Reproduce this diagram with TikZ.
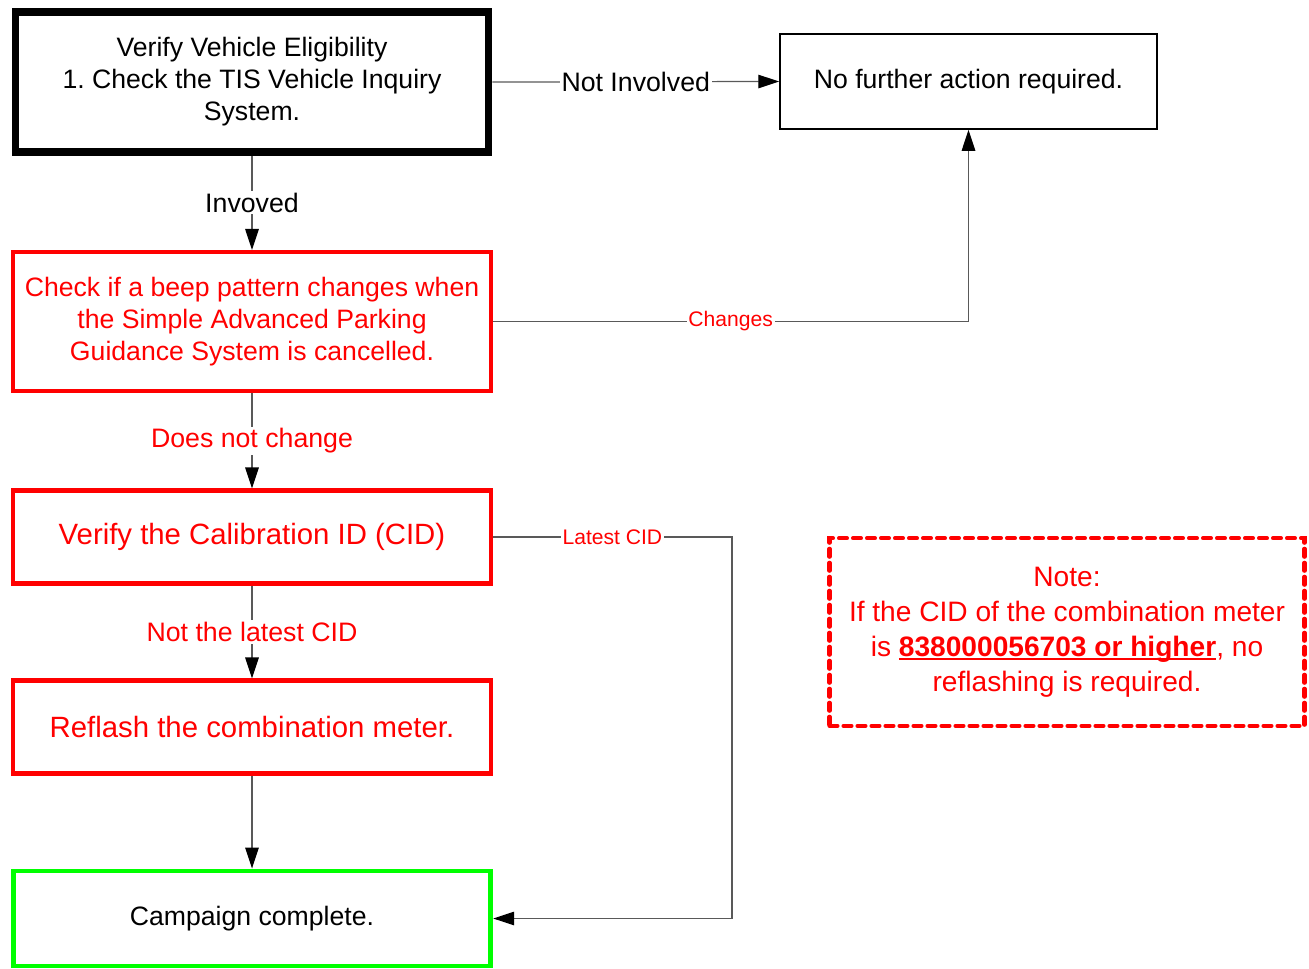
\documentclass[tikz,border=0pt]{standalone}
\usepackage{fontspec}
\setmainfont{Liberation Sans}
\usetikzlibrary{arrows.meta}
\frenchspacing
% gạch chân sát chữ
\newcommand{\ulnum}[1]{\setbox0\hbox{#1}\rlap{\rule[-2.3pt]{\wd0}{1.2pt}}\box0}
\begin{document}
\begin{tikzpicture}[
  box/.style={draw, rectangle, align=center, minimum width=9.55cm,
    font=\fontsize{15.15}{18.2}\selectfont},
  redbox/.style={box, draw=red, line width=2.3pt, text=red},
  link/.style={draw=gray!70!black, line width=0.7pt,
    -{Triangle[length=0.42cm, width=0.27cm, color=black]}},
  lbl/.style={fill=white, inner sep=1pt, font=\fontsize{15.2}{17}\selectfont},
  smalllbl/.style={fill=white, inner sep=1pt, text=red, font=\fontsize{12}{14}\selectfont}
]
  \useasboundingbox (0,0) rectangle (26.18,-19.36);
  % Các hộp chính
  \node[box, line width=4.3pt, minimum width=9.46cm, minimum height=2.8cm] (vve) at (5.04,-1.64)
    {Verify Vehicle Eligibility\\1. Check the TIS Vehicle Inquiry\\System.};
  \node[box, line width=0.85pt, minimum width=7.54cm, minimum height=1.9cm] (nfa) at (19.37,-1.63)
    {No further action required.};
  \node[redbox, minimum height=2.78cm] (beep) at (5.04,-6.43)
    {Check if a beep pattern changes when\\the Simple Advanced Parking\\Guidance System is cancelled.};
  \node[redbox, minimum height=1.86cm, font=\fontsize{16.7}{20}\selectfont] (cid) at (5.04,-10.74)
    {Verify the Calibration ID (CID)};
  \node[redbox, minimum height=1.86cm, font=\fontsize{16.7}{20}\selectfont] (reflash) at (5.04,-14.54)
    {Reflash the combination meter.};
  \node[box, draw={rgb,255:red,0;green,255;blue,0}, line width=2.8pt, minimum height=1.9cm] (done) at (5.04,-18.37)
    {Campaign complete.};
  % Ghi chú
  \node[draw=red, line width=2.3pt, dash pattern=on 0.16cm off 0.12cm, line cap=round,
    rectangle, minimum width=9.5cm, minimum height=3.75cm, align=center, text=red,
    font=\fontsize{16}{19.9}\selectfont] (note) at (21.34,-12.64)
    {Note:\\If the CID of the combination meter\\is \ulnum{\textbf{838000056703 or higher}}, no\\reflashing is required.};
  % Các mũi tên
  \coordinate (cidturn) at (14.64,-10.74);
  \draw[link] (vve) -- node[lbl] {Invoved} (beep);
  \draw[link] (vve.east) -- node[lbl] {Not Involved} (nfa.west);
  \draw[link] (beep.east) -| node[smalllbl, pos=0.25] {Changes} (nfa.south);
  \draw[link] (beep) -- node[lbl, text=red] {Does not change} (cid);
  \draw[link] (cid.east) -- node[smalllbl] {Latest CID} (cidturn) |- (done.east);
  \draw[link] (cid) -- node[lbl, text=red] {Not the latest CID} (reflash);
  \draw[link] (reflash) -- (done);
\end{tikzpicture}
\end{document}
